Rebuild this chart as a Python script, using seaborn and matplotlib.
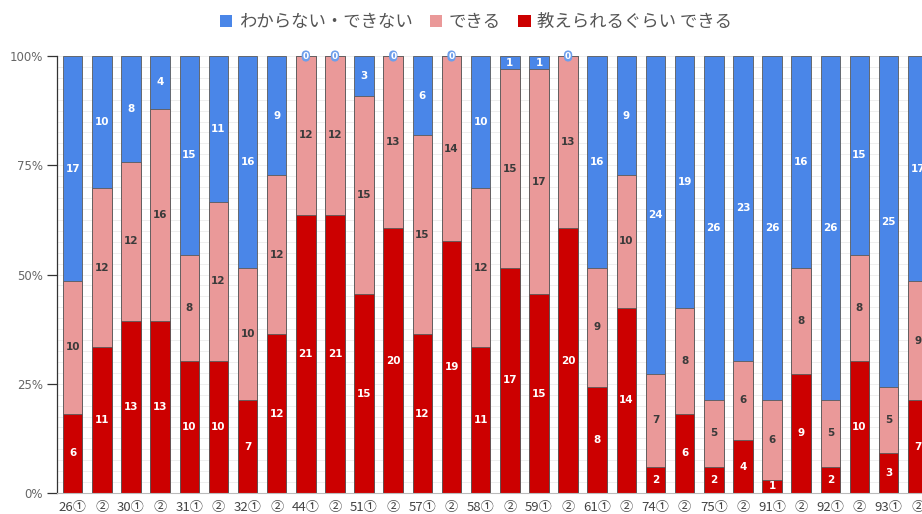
import numpy as np
import pandas as pd
import matplotlib
matplotlib.use("Agg")
import matplotlib.pyplot as plt
from matplotlib.patches import Patch
import seaborn as sns

# Category labels (session number + round)
labels = ["26①", "②", "30①", "②", "31①", "②", "32①", "②", "44①", "②",
          "51①", "②", "57①", "②", "58①", "②", "59①", "②", "61①", "②",
          "74①", "②", "75①", "②", "91①", "②", "92①", "②", "93①", "②"]

# Counts per answer
teach = [6, 11, 13, 13, 10, 10, 7, 12, 21, 21,
         15, 20, 12, 19, 11, 17, 15, 20, 8, 14,
         2, 6, 2, 4, 1, 9, 2, 10, 3, 7]
can = [10, 12, 12, 16, 8, 12, 10, 12, 12, 12,
       15, 13, 15, 14, 12, 15, 17, 13, 9, 10,
       7, 8, 5, 6, 6, 8, 5, 8, 5, 9]
cannot = [17, 10, 8, 4, 15, 11, 16, 9, 0, 0,
          3, 0, 6, 0, 10, 1, 1, 0, 16, 9,
          24, 19, 26, 23, 26, 16, 26, 15, 25, 17]

series_names = ["わからない・できない", "できる", "教えられるぐらい できる"]
colors = ["#4a86e8", "#ea9999", "#cc0000"]

sns.set_theme(style="white")
plt.rcParams["font.family"] = ["Noto Sans CJK JP", "DejaVu Sans"]

teach_a = np.array(teach, float)
can_a = np.array(can, float)
cannot_a = np.array(cannot, float)
total = teach_a + can_a + cannot_a

df = pd.DataFrame({
    "idx": np.arange(len(labels)),
    "top": (teach_a + can_a + cannot_a) / total,
    "mid": (teach_a + can_a) / total,
    "low": teach_a / total,
})

fig = plt.figure(figsize=(9.22, 5.14), dpi=100)
ax = fig.add_axes([57 / 922, 21 / 514, 1 - 57 / 922, (493 - 56) / 514])

bar_kw = dict(width=0.67, saturation=1, edgecolor="#5a5a5a", linewidth=0.6, zorder=2)
sns.barplot(data=df, x="idx", y="top", color=colors[0], ax=ax, **bar_kw)
sns.barplot(data=df, x="idx", y="mid", color=colors[1], ax=ax, **bar_kw)
sns.barplot(data=df, x="idx", y="low", color=colors[2], ax=ax, **bar_kw)

# Segment value labels
label_font = dict(fontsize=7.5, fontweight="bold", ha="center", va="center",
                  family=["DejaVu Sans"], zorder=5)
for i in range(len(labels)):
    lo = df["low"][i]
    mi = df["mid"][i]
    tp = df["top"][i]
    if teach[i] > 0:
        ax.text(i, lo / 2, str(teach[i]), color="white", **label_font)
    if can[i] > 0:
        ax.text(i, (lo + mi) / 2, str(can[i]), color="#3a3a3a", **label_font)
    if cannot[i] > 0:
        ax.text(i, (mi + tp) / 2, str(cannot[i]), color="white", **label_font)
    else:
        ax.text(i, 1.0, "0", color="white", clip_on=False,
                bbox=dict(boxstyle="round,pad=0.12,rounding_size=0.5",
                          fc="#6d9eeb", ec="none"),
                **{**label_font, "fontsize": 6.5})

ax.set_ylim(0, 1)
ax.set_xlim(-0.54, 29.146)

ax.set_yticks([0, 0.25, 0.5, 0.75, 1.0])
ax.set_yticklabels(["0%", "25%", "50%", "75%", "100%"], color="#666666", fontsize=8.5,
                   family=["DejaVu Sans"])
ax.set_yticks(np.arange(0, 1.0001, 0.025), minor=True)
ax.tick_params(axis="y", which="major", left=True, length=7, width=0.9,
               color="#333333", pad=3)
ax.tick_params(axis="y", which="minor", left=False)
ax.yaxis.grid(True, which="both", color="#eeeeee", linewidth=0.7, zorder=0)
ax.set_axisbelow(True)

ax.set_xticks(range(len(labels)))
ax.set_xticklabels(labels, color="#444444", fontsize=9.5)
ax.tick_params(axis="x", bottom=False, pad=0)
ax.set_xlabel("")
ax.set_ylabel("")

for side in ["top", "right"]:
    ax.spines[side].set_visible(False)
ax.spines["left"].set_color("#333333")
ax.spines["left"].set_linewidth(0.9)
ax.spines["bottom"].set_color("#bbbbbb")
ax.spines["bottom"].set_linewidth(0.8)

handles = [Patch(facecolor=c, edgecolor="none") for c in colors]
fig.legend(handles, series_names, loc="center", bbox_to_anchor=(476 / 922, 1 - 22 / 514),
           ncol=3, frameon=False, fontsize=12.5, labelcolor="#555555",
           handlelength=0.7, handleheight=0.7, handletextpad=0.4, columnspacing=1.0)

fig.savefig("out.png", dpi=100)
